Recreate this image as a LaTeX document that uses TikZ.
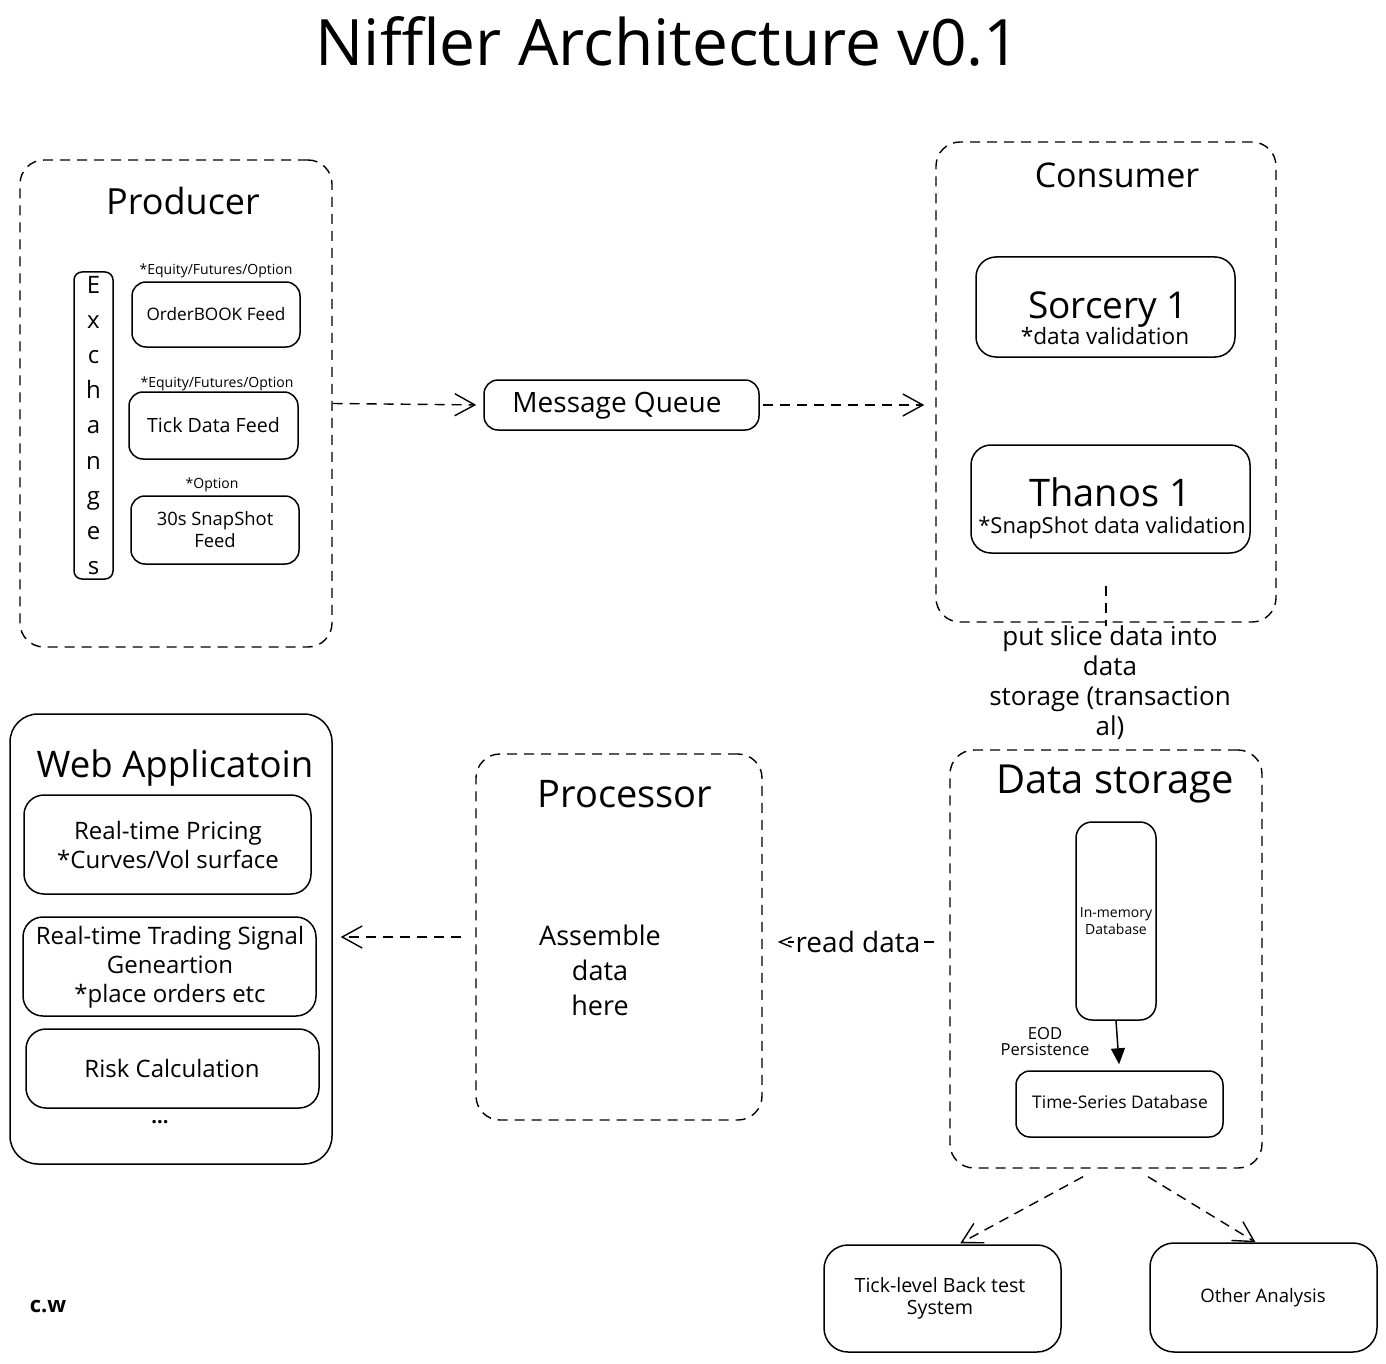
\documentclass[tikz,border=0pt]{standalone}
\usepackage{fontspec}
\setmainfont{Open Sans}
\usetikzlibrary{arrows.meta,fit}
\newcommand{\fsz}[2]{\fontsize{#1}{#2}\selectfont}
\begin{document}
\begin{tikzpicture}[x=0.5pt,y=-0.5pt,
  solidbox/.style={draw, line width=0.75pt, rounded corners=7pt, inner sep=0pt},
  dashbox/.style={draw, line width=0.7pt, rounded corners=12pt, dash pattern=on 5pt off 3.5pt, inner sep=0pt},
  txt/.style={inner sep=0pt, align=center},
  dasharrow/.style={line width=0.7pt, dash pattern=on 5pt off 3.5pt, -{Straight Barb[length=10pt,width=11pt,line width=0.7pt]}},
  smallarrow/.style={line width=0.7pt, dash pattern=on 5pt off 3.5pt, -{Straight Barb[length=6pt,width=5pt,line width=0.7pt]}},
  solidarrow/.style={line width=0.75pt, -{Triangle[length=8pt,width=7pt]}}
]
\useasboundingbox (0,0) rectangle (1386,1364);

% title
\node[txt, anchor=base, font=\fsz{32}{38}] (title) at (668,66) {Niffler Architecture v0.1};

% producer
\node[dashbox, fit={(20,160) (332,647)}] (prod) {};
\node[txt, anchor=base, font=\fsz{18}{21}] (prodt) at (183,215) {Producer};
\node[solidbox, rounded corners=4pt, fit={(74,272) (113,579)}] (exch) {};
\node[txt, font=\fsz{12}{17.6}] (exchtxt) at (exch.center) {E\\x\\c\\h\\a\\n\\g\\e\\s};
\node[txt, font=\fsz{7}{8}] (eq1) at (216,271) {*Equity/Futures/Option};
\node[solidbox, fit={(132,282) (300,347)}] (ob) {};
\node[txt, font=\fsz{8.6}{11}] (obt) at (ob.center) {OrderBOOK Feed};
\node[txt, font=\fsz{7}{8}] (eq2) at (217,384) {*Equity/Futures/Option};
\node[solidbox, fit={(129,392) (298,459)}] (tick) {};
\node[txt, font=\fsz{9.8}{11}] (tickt) at (tick.center) {Tick Data Feed};
\node[txt, font=\fsz{7}{8}] (opt) at (212,485) {*Option};
\node[solidbox, fit={(131,496) (299,564)}] (snap) {};
\node[txt, font=\fsz{9.2}{11}] (snapt) at (snap.center) {30s SnapShot\\Feed};

% message queue
\node[solidbox, fit={(484,380) (759,430)}] (mq) {};
\node[txt, anchor=base, font=\fsz{14}{17}] (mqt) at (617,412) {Message Queue};

% consumer
\node[dashbox, fit={(936,142) (1276,622)}] (cons) {};
\node[txt, anchor=base, font=\fsz{17}{20}] (const) at (1117,188) {Consumer};
\node[solidbox, rounded corners=10pt, fit={(976,257) (1235,357)}] (sor) {};
\node[txt, anchor=base, font=\fsz{18.5}{22}] (sort) at (1108,318) {Sorcery 1};
\node[txt, anchor=base, font=\fsz{11.3}{13}] (sorv) at (1105,344) {*data validation};
\node[solidbox, rounded corners=10pt, fit={(971,445) (1250,553)}] (tha) {};
\node[txt, anchor=base, font=\fsz{19}{23}] (that) at (1110,506) {Thanos 1};
\node[txt, anchor=base, font=\fsz{11}{13}] (thav) at (1112,533) {*SnapShot data validation};

\node[txt, font=\fsz{13}{15}] (put) at (1110,683) {put slice data into\\data\\storage (transaction\\al)};

% data storage
\node[dashbox, fit={(950,750) (1262,1168)}] (ds) {};
\node[txt, anchor=base, font=\fsz{20}{23}] (dst) at (1115,793) {Data storage};
\node[solidbox, rounded corners=8pt, fit={(1076,822) (1156,1020)}] (inmem) {};
\node[txt, font=\fsz{7}{8.5}] (inmemt) at (inmem.center) {In-memory\\Database};
\node[txt, font=\fsz{8.3}{8}] (eod) at (1045,1042) {EOD\\Persistence};
\node[solidbox, fit={(1016,1071) (1223,1137)}] (ts) {};
\node[txt, font=\fsz{8.7}{10}] (tst) at (1120,1102) {Time-Series Database};

% bottom boxes
\node[solidbox, rounded corners=12pt, fit={(824,1245) (1061,1352)}] (bt) {};
\node[txt, font=\fsz{9.8}{11}] (btt) at (940,1298) {Tick-level Back test\\System};
\node[solidbox, rounded corners=12pt, fit={(1150,1243) (1377,1352)}] (oa) {};
\node[txt, font=\fsz{9.3}{11}] (oat) at (1263,1298) {Other Analysis};

% web application
\node[solidbox, rounded corners=14pt, fit={(10,714) (332,1164)}] (web) {};
\node[txt, anchor=base, font=\fsz{18.3}{21}] (webt) at (175,777) {Web Applicatoin};
\node[solidbox, rounded corners=10pt, fit={(24,795) (311,894)}] (rtp) {};
\node[txt, font=\fsz{12}{14.5}] (rtpt) at (168,845) {Real-time Pricing\\{*}Curves/Vol surface};
\node[solidbox, rounded corners=10pt, fit={(23,917) (316,1016)}] (rts) {};
\node[txt, font=\fsz{12}{14.5}] (rtst) at (170,967) {Real-time Trading Signal\\Geneartion\\{*}place orders etc};
\node[solidbox, rounded corners=10pt, fit={(26,1029) (319,1108)}] (risk) {};
\node[txt, font=\fsz{12}{13}] (riskt) at (172,1068) {Risk Calculation};
\node[txt, font=\fsz{10}{12}\bfseries] (dots) at (160,1122) {...};

% processor
\node[dashbox, fit={(476,754) (762,1120)}] (proc) {};
\node[txt, anchor=base, font=\fsz{19}{22}] (proct) at (625,807) {Processor};
\node[txt, font=\fsz{13.5}{17.5}] (procb) at (600,970) {Assemble\\data\\here};

\node[txt, font=\fsz{11}{13}\bfseries] (cw) at (48,1307) {c.w};

% connectors
\draw[dasharrow, shorten >=3.5pt] (prod.east) -- (mq.west);
\draw[dasharrow, shorten <=1.5pt, shorten >=5.5pt] (mq.east) -- (mq.east -| cons.west);
\draw[line width=0.7pt, dash pattern=on 5pt off 3.5pt] ([yshift=18.5pt]cons.south) -- (cons.south |- put.north);
\draw[solidarrow, shorten >=3pt] (inmem.south) -- (ts.north);
\draw[dasharrow, shorten >=1pt] ([xshift=-11.5pt,yshift=-4pt]ds.south) -- ([xshift=8pt]bt.north);
\draw[dasharrow, shorten >=0pt] ([xshift=21pt,yshift=-4pt]ds.south) -- ([xshift=-4pt]oa.north);
\draw[dasharrow, shorten <=7pt, shorten >=4pt] (proc.west) -- (proc.west -| web.east);
\coordinate (rdy) at (0,942);
\draw[smallarrow, shorten <=7.5pt, shorten >=7.5pt] (ds.west |- rdy) -- (proc.east |- rdy);
\node[txt, font=\fsz{14}{16}, fill=white, inner sep=1pt] (rd) at (858,942) {read data};
\end{tikzpicture}
\end{document}
